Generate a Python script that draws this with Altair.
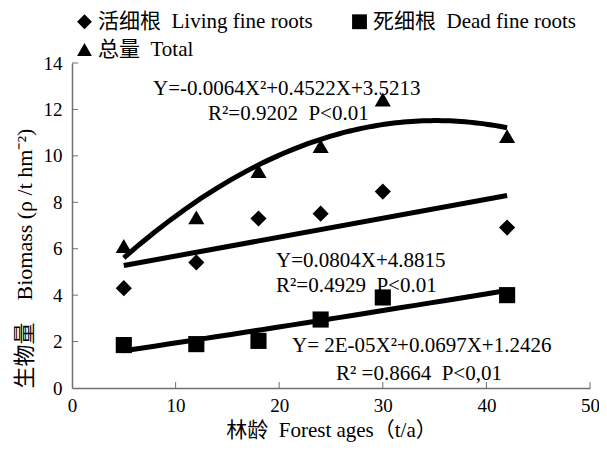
import altair as alt
import pandas as pd

NB = "\u00a0\u00a0"

# ---- data ----
ages = [5, 12, 18, 24, 30, 42]
living = [4.30, 5.41, 7.30, 7.51, 8.46, 6.91]
dead = [1.85, 1.89, 2.03, 2.95, 3.90, 4.00]
total = [6.12, 7.35, 9.35, 10.42, 12.43, 10.85]
series_names = ["活细根" + NB + "Living fine roots", "死细根" + NB + "Dead fine roots", "总量" + NB + "Total"]
x_ticks = [0, 10, 20, 30, 40, 50]
y_ticks = [0, 2, 4, 6, 8, 10, 12, 14]
fit_extent = [5, 42]
annotations = [
    "Y=-0.0064X²+0.4522X+3.5213",
    "R²=0.9202" + NB + "P<0.01",
    "Y=0.0804X+4.8815",
    "R²=0.4929" + NB + "P<0.01",
    "Y= 2E-05X²+0.0697X+1.2426",
    "R² =0.8664" + NB + "P<0,01",
]

rows = []
for name, vals in zip(series_names, [living, dead, total]):
    for a, v in zip(ages, vals):
        rows.append({"age": a, "value": v, "series": name})
df = pd.DataFrame(rows)

FONT = "'Liberation Serif', 'Noto Sans CJK SC', serif"
AX = "#707070"
W, H = 518, 325

# legend fills column by column: order so rows read Living, Dead / Total
legend_order = [series_names[0], series_names[2], series_names[1]]
shape_range = ["diamond", "triangle-up", "square"]

x_enc = alt.X("age:Q", scale=alt.Scale(domain=[0, 50], nice=False),
              axis=alt.Axis(values=x_ticks, tickSize=0, grid=False, format="d",
                            labelFlush=False,
                            title="林龄" + NB + "Forest ages（t/a）", labelPadding=8,
                            titlePadding=4))
y_enc = alt.Y("value:Q", scale=alt.Scale(domain=[0, 14], nice=False),
              axis=alt.Axis(values=y_ticks, tickSize=0, grid=False, format="d",
                            labelFlush=False,
                            title="生物量" + NB + NB + "Biomass (ρ\u00a0/t hm⁻²)", labelPadding=10,
                            titlePadding=7, titleAnchor="start", titleFontSize=22))

points = alt.Chart(df).mark_point(filled=True, opacity=1, color="black", size=260).encode(
    x=x_enc, y=y_enc,
    shape=alt.Shape("series:N",
                    scale=alt.Scale(domain=legend_order, range=shape_range),
                    legend=alt.Legend(title=None, orient="none", legendX=2, legendY=-52,
                                      columns=2, columnPadding=36, rowPadding=6,
                                      symbolSize=220, symbolFillColor="black",
                                      symbolStrokeColor="black", symbolStrokeWidth=0,
                                      labelFont=FONT, labelFontSize=21, labelColor="black",
                                      labelOffset=3, padding=0, labelLimit=400)),
)

def fit(name, method):
    base = alt.Chart(df).transform_filter(alt.datum.series == name)
    if method == "poly":
        base = base.transform_regression("age", "value", method="poly", order=2, extent=fit_extent)
    else:
        base = base.transform_regression("age", "value", method="linear", extent=fit_extent)
    return base.mark_line(color="black", strokeWidth=5).encode(x=x_enc, y=y_enc)

lines = [fit(series_names[2], "poly"), fit(series_names[0], "linear"), fit(series_names[1], "poly")]

xt = alt.Chart(pd.DataFrame({"age": x_ticks[1:]})).mark_rule(color=AX, strokeWidth=1).encode(
    x=x_enc, y=alt.value(H), y2=alt.value(H - 6))
yt = alt.Chart(pd.DataFrame({"value": y_ticks[1:]})).mark_rule(color=AX, strokeWidth=1).encode(
    y=y_enc, x=alt.value(0), x2=alt.value(6))

ann_pos = [(81, 31.5), (136, 56.5), (204, 203.5), (204, 228.5), (220, 288.5), (264, 316.5)]
one = pd.DataFrame({"k": [0]})
texts = [
    alt.Chart(one).mark_text(align="left", baseline="alphabetic", font=FONT, fontSize=21,
                             color="black").encode(x=alt.value(px), y=alt.value(py), text=alt.value(t))
    for t, (px, py) in zip(annotations, ann_pos)
]

chart = alt.layer(xt, yt, *lines, points, *texts).properties(
    width=W, height=H,
    autosize=alt.AutoSizeParams(type="none"),
    padding={"left": 64, "top": 55, "right": 9, "bottom": 55},
    background="white",
).configure_view(stroke=None).configure_axis(
    domainColor=AX, domainWidth=1.5, labelFont=FONT, labelFontSize=19, labelColor="black",
    titleFont=FONT, titleFontSize=21, titleColor="black", titleFontWeight="normal",
)

chart.save("out.html", embed_options={"renderer": "svg", "actions": False})
